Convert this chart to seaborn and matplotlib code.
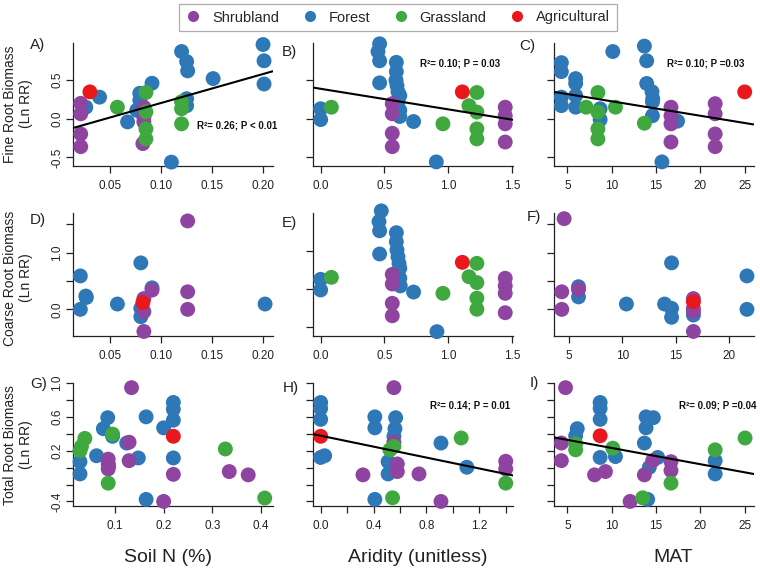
import numpy as np
import pandas as pd
import matplotlib
matplotlib.use("Agg")
import matplotlib.pyplot as plt
import seaborn as sns
from matplotlib.lines import Line2D

W, H = 760, 571

biomes = ["Shrubland", "Forest", "Grassland", "Agricultural"]
colors = {"Shrubland": "#8e44a0", "Forest": "#2f78b7",
          "Grassland": "#3fa83f", "Agricultural": "#e8181d"}

# ---- A) fine root vs soil N
a_shrub_x = [0.021, 0.021, 0.021, 0.021, 0.083, 0.083, 0.083, 0.082]
a_shrub_y = [0.20, 0.065, -0.196, -0.36, 0.15, 0.02, -0.04, -0.32]
a_forest_x = [0.026, 0.0395, 0.067, 0.076, 0.079, 0.079, 0.081, 0.091, 0.110, 0.120,
              0.125, 0.126, 0.125, 0.125, 0.151, 0.200, 0.201, 0.201]
a_forest_y = [0.15, 0.28, -0.04, 0.11, 0.33, 0.24, 0.11, 0.46, -0.56, 0.87,
              0.74, 0.62, 0.26, 0.17, 0.52, 0.96, 0.75, 0.45]
a_grass_x = [0.057, 0.085, 0.085, 0.085, 0.085, 0.120, 0.120, 0.120]
a_grass_y = [0.15, 0.34, 0.09, -0.13, -0.26, 0.13, -0.065, 0.22]
a_agri_x = [0.030]
a_agri_y = [0.348]

# ---- B) fine root vs aridity
b_shrub_x = [0.561, 0.561, 0.561, 0.561, 1.446, 1.446, 1.446, 1.446]
b_shrub_y = [0.196, 0.065, -0.187, -0.36, 0.15, 0.04, -0.065, -0.30]
b_forest_x = [0.0, 0.0, 0.462, 0.449, 0.462, 0.462, 0.593, 0.593, 0.59, 0.598,
              0.606, 0.62, 0.606, 0.587, 0.62, 0.62, 0.728, 0.906]
b_forest_y = [0.13, -0.01, 0.97, 0.87, 0.75, 0.465, 0.73, 0.61, 0.5, 0.43,
              0.35, 0.30, 0.22, 0.17, 0.11, 0.03, -0.035, -0.557]
b_grass_x = [0.084, 0.958, 1.162, 1.224, 1.224, 1.224, 1.224]
b_grass_y = [0.15, -0.065, 0.17, 0.34, 0.087, -0.13, -0.26]
b_agri_x = [1.11]
b_agri_y = [0.348]

# ---- C) fine root vs MAT
c_shrub_x = [16.69, 16.69, 16.69, 16.69, 21.67, 21.67, 21.67, 21.67]
c_shrub_y = [0.15, 0.04, -0.065, -0.30, 0.196, 0.065, -0.196, -0.36]
c_forest_x = [4.33, 4.33, 4.33, 4.33, 5.94, 5.94, 5.94, 5.94, 10.13, 13.69,
              13.95, 13.95, 14.55, 14.63, 14.6, 14.6, 8.7, 8.7, 15.67, 17.43]
c_forest_y = [0.726, 0.61, 0.28, 0.17, 0.52, 0.457, 0.30, 0.15, 0.87, 0.94,
              0.75, 0.457, 0.35, 0.26, 0.22, 0.04, 0.13, -0.01, -0.557, -0.03]
c_grass_x = [7.13, 8.45, 8.45, 8.45, 8.45, 10.43, 13.69]
c_grass_y = [0.15, 0.34, 0.087, -0.13, -0.26, 0.15, -0.057]
c_agri_x = [25.0]
c_agri_y = [0.348]

# ---- D) coarse root vs soil N
d_shrub_x = [0.083, 0.083, 0.083, 0.091, 0.126, 0.126, 0.126]
d_shrub_y = [0.19, -0.04, -0.39, 0.34, 1.56, 0.31, 0.0]
d_forest_x = [0.0206, 0.0206, 0.026, 0.0265, 0.057, 0.080, 0.080, 0.080, 0.091, 0.202]
d_forest_y = [0.59, 0.0, 0.235, 0.21, 0.094, 0.82, 0.018, -0.13, 0.38, 0.094]
d_grass_x = []
d_grass_y = []
d_agri_x = [0.082]
d_agri_y = [0.12]

# ---- E) coarse root vs aridity
e_shrub_x = [0.561, 0.561, 0.561, 0.561, 1.446, 1.446, 1.446, 1.446]
e_shrub_y = [0.19, 0.065, -0.187, -0.35, 0.14, 0.04, -0.057, -0.31]
e_forest_x = [0.0, 0.0, 0.475, 0.457, 0.462, 0.462, 0.593, 0.593, 0.598, 0.606,
              0.614, 0.62, 0.60, 0.62, 0.624, 0.728, 0.911]
e_forest_y = [0.126, -0.013, 1.02, 0.88, 0.76, 0.457, 0.735, 0.617, 0.51, 0.42,
              0.335, 0.27, 0.204, 0.14, 0.04, -0.04, -0.557]
e_grass_x = [0.084, 0.958, 1.162, 1.224, 1.224, 1.224, 1.224]
e_grass_y = [0.152, -0.057, 0.16, 0.335, 0.083, -0.12, -0.265]
e_agri_x = [1.11]
e_agri_y = [0.348]

# ---- F) coarse root vs MAT
f_shrub_x = [4.53, 4.31, 4.31, 5.88, 16.67, 16.67, 16.67, 16.67]
f_shrub_y = [1.6, 0.31, 0.0, 0.35, 0.19, 0.018, -0.04, -0.39]
f_forest_x = [5.88, 5.88, 10.38, 13.96, 14.62, 14.62, 14.62, 16.67, 21.7, 21.7]
f_forest_y = [0.4, 0.22, 0.094, 0.094, 0.82, 0.018, -0.14, -0.1, 0.59, 0.0]
f_grass_x = []
f_grass_y = []
f_agri_x = [16.67]
f_agri_y = [0.135]

# ---- G) total root vs soil N
g_shrub_x = [0.134, 0.086, 0.086, 0.086, 0.129, 0.129, 0.22, 0.20, 0.335, 0.374]
g_shrub_y = [0.945, 0.10, 0.043, -0.016, 0.30, 0.082, -0.08, -0.40, -0.047, -0.086]
g_forest_x = [0.028, 0.028, 0.062, 0.076, 0.085, 0.095, 0.124, 0.148, 0.164, 0.164,
              0.20, 0.22, 0.22, 0.22, 0.22, 0.087]
g_forest_y = [0.07, -0.075, 0.14, 0.46, 0.59, 0.37, 0.29, 0.114, 0.60, -0.376,
              0.47, 0.77, 0.69, 0.56, 0.114, 0.02]
g_grass_x = [0.038, 0.028, 0.031, 0.095, 0.086, 0.327, 0.408]
g_grass_y = [0.345, 0.2, 0.25, 0.396, -0.184, 0.22, -0.36]
g_agri_x = [0.22]
g_agri_y = [0.37]

# ---- H) total root vs aridity
h_shrub_x = [0.554, 0.32, 0.554, 0.58, 0.58, 0.744, 0.91, 1.40, 1.40]
h_shrub_y = [0.945, -0.086, 0.30, 0.043, -0.047, -0.075, -0.40, 0.075, -0.016]
h_forest_x = [0.0, 0.0, 0.0, 0.0, 0.03, 0.41, 0.41, 0.41, 0.567, 0.562,
              0.554, 0.51, 0.51, 0.91, 1.106]
h_forest_y = [0.77, 0.70, 0.57, 0.12, 0.14, 0.60, 0.47, -0.376, 0.59, 0.46,
              0.37, 0.07, -0.075, 0.29, 0.004]
h_grass_x = [0.554, 0.524, 0.544, 1.063, 1.40]
h_grass_y = [0.25, 0.21, -0.357, 0.35, -0.184]
h_agri_x = [0.0]
h_agri_y = [0.37]

# ---- I) total root vs MAT
i_shrub_x = [4.8, 4.33, 4.33, 8.07, 9.3, 12.08, 13.69, 14.63, 16.69, 16.69]
i_shrub_y = [0.945, 0.29, 0.082, -0.086, -0.047, -0.40, -0.086, 0.082, 0.07, -0.035]
i_forest_x = [6.12, 5.94, 8.7, 8.7, 8.7, 8.7, 10.43, 13.88, 14.7, 13.88,
              13.69, 14.25, 15.19, 14.06, 21.67, 21.67]
i_forest_y = [0.46, 0.376, 0.77, 0.70, 0.57, 0.12, 0.13, 0.60, 0.59, 0.47,
              0.29, 0.004, 0.12, -0.376, 0.082, -0.075]
i_grass_x = [5.94, 5.94, 10.13, 13.5, 16.69, 21.67, 25.04]
i_grass_y = [0.28, 0.21, 0.23, -0.357, -0.184, 0.21, 0.35]
i_agri_x = [8.7]
i_agri_y = [0.376]

# regression lines (intercept, slope) and their stats text
fits = {
    "A": (-0.169, 3.74, "R\u00b2= 0.26; P < 0.01"),
    "B": (0.388, -0.266, "R\u00b2= 0.10; P = 0.03"),
    "C": (0.4135, -0.0187, "R\u00b2= 0.10; P =0.03"),
    "H": (0.377, -0.323, "R\u00b2= 0.14; P = 0.01"),
    "I": (0.424, -0.0192, "R\u00b2= 0.09; P =0.04"),
}

soiln_ticks = [0.05, 0.10, 0.15, 0.20]
arid_ticks = [0.0, 0.5, 1.0, 1.5]
mat_ticks = [5, 10, 15, 20, 25]
mat_ticks_f = [5, 10, 15, 20]
soiln_ticks_g = [0.1, 0.2, 0.3, 0.4]
arid_ticks_h = [0.0, 0.2, 0.4, 0.6, 0.8, 1.0, 1.2, 1.4]
arid_labels_h = ["0.0", "", "0.4", "", "0.8", "", "1.2", ""]
fine_ticks = [-0.5, 0.0, 0.5]
coarse_ticks = [0.0, 0.5, 1.0, 1.5]
coarse_labels = ["0.0", "", "1.0", ""]
total_ticks = [-0.4, -0.2, 0.0, 0.2, 0.4, 0.6, 0.8, 1.0]
total_labels = ["-0.4", "", "", "0.2", "", "0.6", "", "1.0"]


def make_df(sx, sy, fx, fy, gx, gy, ax_, ay):
    # forest drawn first, agricultural last (as in the original)
    parts = []
    for name, xs, ys in [("Forest", fx, fy), ("Shrubland", sx, sy),
                         ("Grassland", gx, gy), ("Agricultural", ax_, ay)]:
        parts.append(pd.DataFrame({"x": xs, "y": ys, "biome": [name] * len(xs)}))
    return pd.concat(parts, ignore_index=True)


panels = [
    # key, df, left px, top px, xlim, ylim, xticks, xlabels, yticks, ylabels
    ("A", make_df(a_shrub_x, a_shrub_y, a_forest_x, a_forest_y, a_grass_x, a_grass_y, a_agri_x, a_agri_y),
     73, 43, (0.0134, 0.2098), (-0.61, 0.98), soiln_ticks, ["0.05", "0.10", "0.15", "0.20"],
     fine_ticks, ["-0.5", "0.0", "0.5"]),
    ("B", make_df(b_shrub_x, b_shrub_y, b_forest_x, b_forest_y, b_grass_x, b_grass_y, b_agri_x, b_agri_y),
     313, 43, (-0.06, 1.507), (-0.61, 0.98), arid_ticks, ["0.0", "0.5", "1.0", "1.5"],
     fine_ticks, None),
    ("C", make_df(c_shrub_x, c_shrub_y, c_forest_x, c_forest_y, c_grass_x, c_grass_y, c_agri_x, c_agri_y),
     554, 43, (3.5, 26.05), (-0.61, 0.98), mat_ticks, ["5", "10", "15", "20", "25"],
     fine_ticks, None),
    ("D", make_df(d_shrub_x, d_shrub_y, d_forest_x, d_forest_y, d_grass_x, d_grass_y, d_agri_x, d_agri_y),
     73, 213, (0.0134, 0.2098), (-0.47, 1.70), soiln_ticks, ["0.05", "0.10", "0.15", "0.20"],
     coarse_ticks, coarse_labels),
    ("E", make_df(e_shrub_x, e_shrub_y, e_forest_x, e_forest_y, e_grass_x, e_grass_y, e_agri_x, e_agri_y),
     313, 213, (-0.06, 1.507), (-0.614, 0.992), arid_ticks, ["0.0", "0.5", "1.0", "1.5"],
     fine_ticks, None),
    ("F", make_df(f_shrub_x, f_shrub_y, f_forest_x, f_forest_y, f_grass_x, f_grass_y, f_agri_x, f_agri_y),
     554, 213, (3.58, 22.36), (-0.47, 1.70), mat_ticks_f, ["5", "10", "15", "20"],
     coarse_ticks, None),
    ("G", make_df(g_shrub_x, g_shrub_y, g_forest_x, g_forest_y, g_grass_x, g_grass_y, g_agri_x, g_agri_y),
     73, 383, (0.0136, 0.425), (-0.454, 1.0), soiln_ticks_g, ["0.1", "0.2", "0.3", "0.4"],
     total_ticks, total_labels),
    ("H", make_df(h_shrub_x, h_shrub_y, h_forest_x, h_forest_y, h_grass_x, h_grass_y, h_agri_x, h_agri_y),
     313, 383, (-0.058, 1.455), (-0.454, 1.0), arid_ticks_h, arid_labels_h,
     total_ticks, None),
    ("I", make_df(i_shrub_x, i_shrub_y, i_forest_x, i_forest_y, i_grass_x, i_grass_y, i_agri_x, i_agri_y),
     554, 383, (3.5, 26.05), (-0.454, 1.0), mat_ticks, ["5", "10", "15", "20", "25"],
     total_ticks, None),
]

letter_pos = {"A": (30, 45), "B": (282, 52), "C": (519, 46), "D": (30, 220), "E": (282, 223),
              "F": (527, 217), "G": (30, 384), "H": (283, 388), "I": (530, 383)}
stat_pos = {"A": (197, 125), "B": (420, 63), "C": (667, 63), "H": (430, 406), "I": (679, 406)}

sns.set_theme(style="ticks")
plt.rcParams["font.family"] = ["Liberation Sans", "DejaVu Sans"]

fig = plt.figure(figsize=(W / 100, H / 100), dpi=100)
ink = "#222222"

for key, df, left, top, xlim, ylim, xt, xl, yt, yl in panels:
    ax = fig.add_axes([left / W, 1 - (top + 123) / H, 200 / W, 123 / H])
    sns.scatterplot(data=df, x="x", y="y", hue="biome", hue_order=biomes,
                    palette=colors, s=115, linewidth=0, alpha=1,
                    legend=False, ax=ax, clip_on=False, zorder=3)
    if key in fits:
        b0, b1, txt = fits[key]
        xx = np.array(xlim)
        ax.plot(xx, b0 + b1 * xx, color="black", lw=1.5, zorder=4)
        sx, sy = stat_pos[key]
        fig.text(sx / W, 1 - sy / H, txt, fontsize=7, fontweight="bold",
                 ha="left", va="center", color="#111111")
    ax.set_xlim(xlim)
    ax.set_ylim(ylim)
    ax.set_xticks(xt)
    ax.set_xticklabels(xl, fontsize=8.5, color=ink)
    ax.set_yticks(yt)
    if yl is None:
        ax.set_yticklabels([])
    else:
        ax.set_yticklabels(yl, fontsize=8.5, rotation=90, va="center", color=ink)
    ax.set_xlabel("")
    ax.set_ylabel("")
    ax.tick_params(direction="out", length=5, width=0.9, color=ink, pad=5)
    ax.tick_params(axis="y", pad=2)
    sns.despine(ax=ax)
    for sp in ["left", "bottom"]:
        ax.spines[sp].set_color(ink)
        ax.spines[sp].set_linewidth(0.9)
    lx, ly = letter_pos[key]
    fig.text(lx / W, 1 - ly / H, key + ")", fontsize=11, ha="left", va="center", color=ink)

# row titles, two lines drawn separately
row_titles = ["Fine Root Biomass", "Coarse Root Biomass", "Total Root Biomass"]
row_centers = [104, 278, 445]
for t, yc in zip(row_titles, row_centers):
    fig.text(10 / W, 1 - yc / H, t, rotation=90, fontsize=10, ha="center", va="center", color=ink)
    fig.text(26 / W, 1 - yc / H, "(Ln RR)", rotation=90, fontsize=10, ha="center", va="center",
             color=ink)

col_titles = ["Soil N (%)", "Aridity (unitless)", "MAT"]
col_centers = [168, 418, 673]
for t, xc in zip(col_titles, col_centers):
    fig.text(xc / W, 1 - 558 / H, t, fontsize=14, ha="center", va="center", color=ink)

handles = [Line2D([0], [0], marker="o", color="none", markerfacecolor=colors[b],
                  markeredgewidth=0, markersize=8, label=b) for b in biomes]
leg = fig.legend(handles=handles, loc="center", bbox_to_anchor=(398 / W, 1 - 17.5 / H),
                 ncol=4, frameon=True, fancybox=False, fontsize=10.5, handlelength=1.0,
                 handletextpad=0.8, columnspacing=1.6, borderpad=0.45)
leg.get_frame().set_edgecolor("#999999")
leg.get_frame().set_linewidth(0.9)

fig.savefig("out.png", dpi=100)
